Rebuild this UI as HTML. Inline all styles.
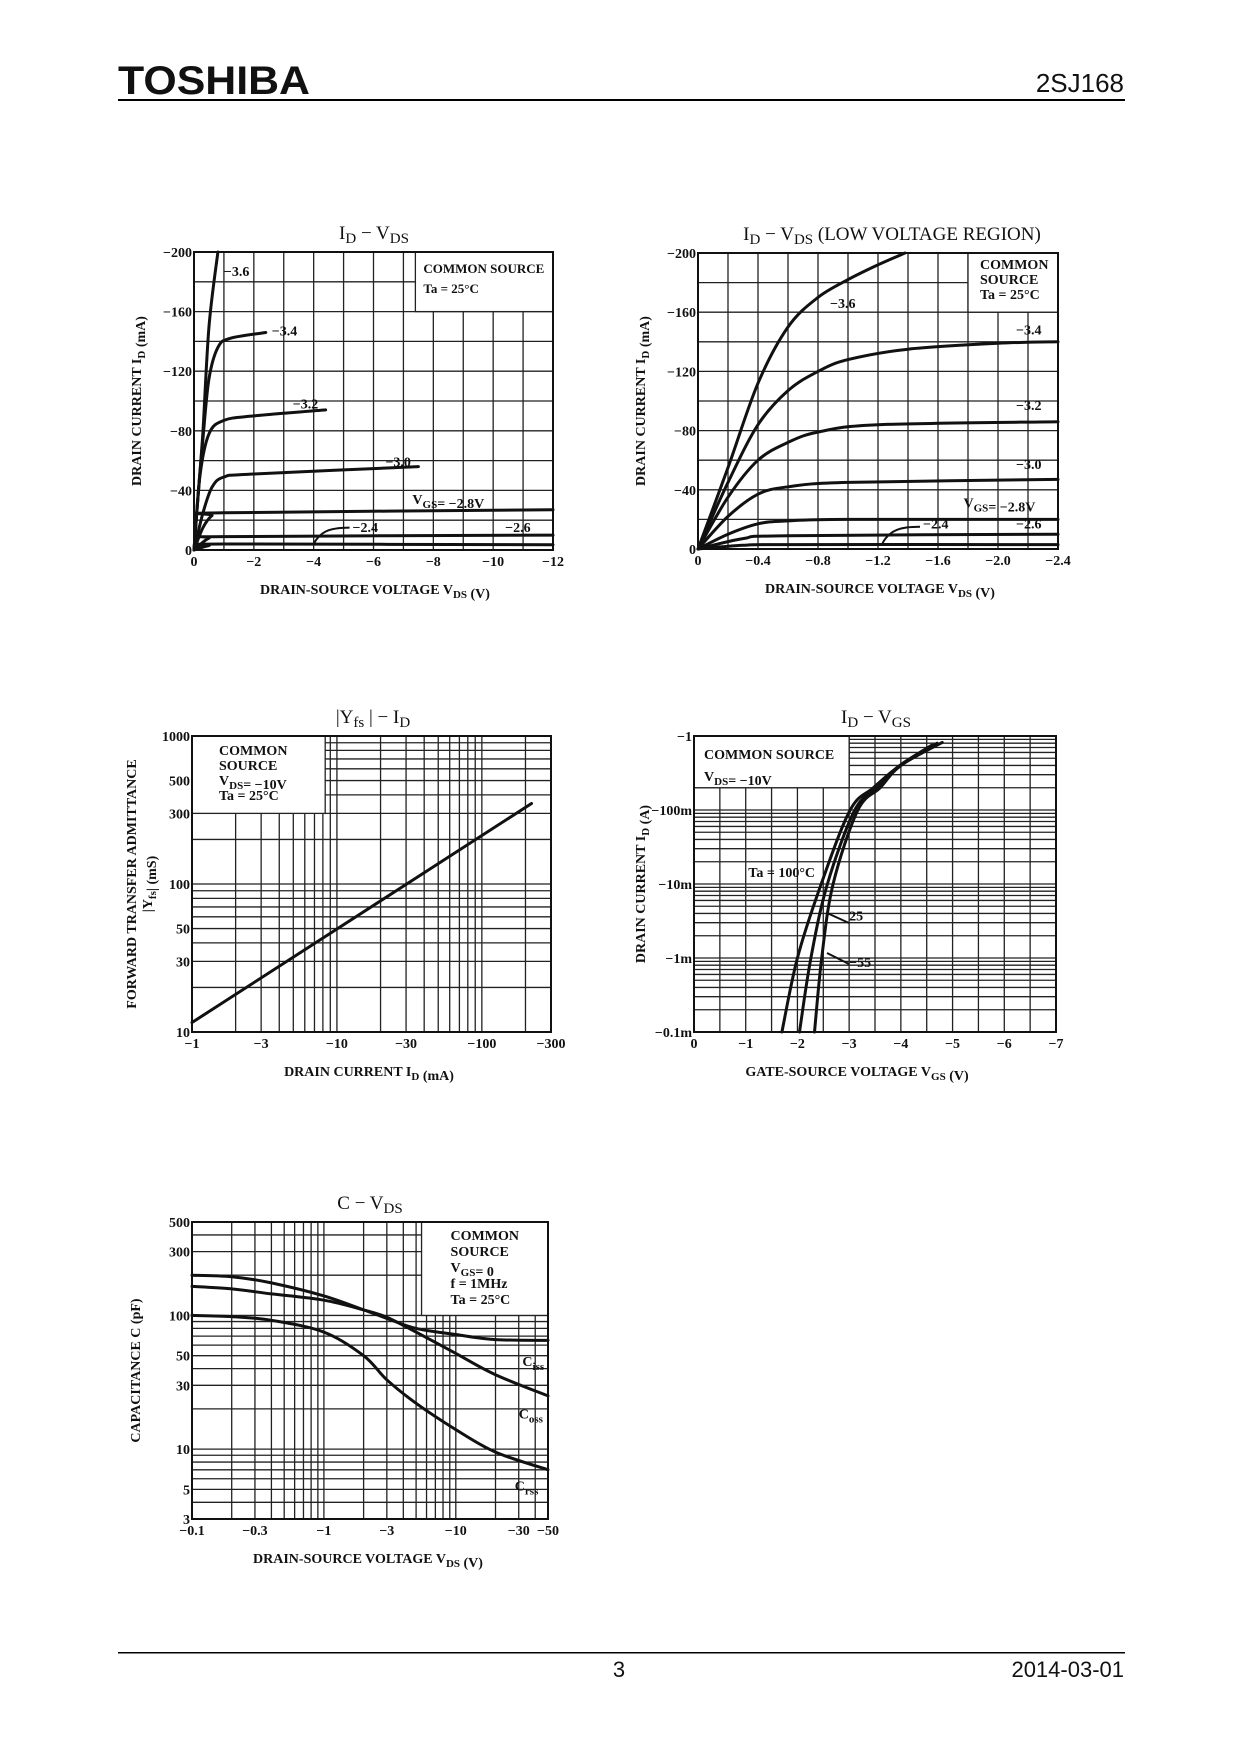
<!DOCTYPE html>
<html><head><meta charset="utf-8"><style>
html,body{margin:0;padding:0;background:#fff;}
svg{display:block;}
text{font-family:"Liberation Serif",serif;font-weight:bold;fill:#111;}
</style></head><body>
<svg id="page" width="1240" height="1754" viewBox="0 0 1240 1754" xmlns="http://www.w3.org/2000/svg">
<text x="118" y="94" textLength="192" lengthAdjust="spacingAndGlyphs" style="font-family:'Liberation Sans',sans-serif;font-weight:900;font-size:40px">TOSHIBA</text>
<text x="1124" y="92" text-anchor="end" style="font-family:'Liberation Sans',sans-serif;font-weight:normal;font-size:26px">2SJ168</text>
<rect x="118" y="99" width="1007" height="2" fill="#000"/>
<rect x="118" y="1652" width="1007" height="1.5" fill="#000"/>
<text x="619" y="1677" text-anchor="middle" style="font-family:'Liberation Sans',sans-serif;font-weight:normal;font-size:22px">3</text>
<text x="1124" y="1677" text-anchor="end" style="font-family:'Liberation Sans',sans-serif;font-weight:normal;font-size:22px">2014-03-01</text>
</svg>
<script>
// ---------- data: chart 1 (ID-VDS) ----------
const c1Vgs = ["-3.6","-3.4","-3.2","-3.0","-2.8","-2.6","-2.4"];
const c1X36 = [0,0.15,0.3,0.5,0.8]; const c1Y36 = [0,40,80,150,200];
const c1X34 = [0,0.15,0.3,0.5,0.8,1.2,2.4]; const c1Y34 = [0,40,75,115,136,142,146];
const c1X32 = [0,0.2,0.5,1,2,4.4]; const c1Y32 = [0,50,78,87,90,94];
const c1X30 = [0,0.3,0.6,1,2,7.5]; const c1Y30 = [0,25,42,49,51,56];
const c1X28 = [0,0.3,0.6,1,12]; const c1Y28 = [0,15,23,25,27];
const c1X26 = [0,0.5,1,12]; const c1Y26 = [0,8,9,10];
const c1X24 = [0,0.5,1,12]; const c1Y24 = [0,3,4,3.5];
const c1XTicks = [0,2,4,6,8,10,12]; const c1XLabels = ["0","−2","−4","−6","−8","−10","−12"];
const c1YTicks = [0,40,80,120,160,200]; const c1YLabels = ["0","−40","−80","−120","−160","−200"];
// ---------- data: chart 2 (low voltage) ----------
const c2X36 = [0,0.2,0.4,0.6,0.8,1.0,1.2,1.38]; const c2Y36 = [0,55,112,150,170,182,192,200];
const c2X34 = [0,0.2,0.4,0.6,0.8,1.0,1.4,2.0,2.4]; const c2Y34 = [0,45,84,107,120,128,135,139,140];
const c2X32 = [0,0.2,0.4,0.6,0.8,1.2,2.4]; const c2Y32 = [0,35,60,72,79,84,86];
const c2X30 = [0,0.2,0.4,0.6,1.0,2.4]; const c2Y30 = [0,22,37,42,45,47];
const c2X28 = [0,0.2,0.4,0.6,1.0,2.4]; const c2Y28 = [0,10,17,19,20,20];
const c2X26 = [0,0.3,0.6,2.4]; const c2Y26 = [0,7,9,10];
const c2X24 = [0,0.3,0.6,2.4]; const c2Y24 = [0,2.5,3,3];
const c2XTicks = [0,0.4,0.8,1.2,1.6,2.0,2.4]; const c2XLabels = ["0","−0.4","−0.8","−1.2","−1.6","−2.0","−2.4"];
// ---------- data: chart 3 (|Yfs|-ID) ----------
const c3X = [1,220]; const c3Y = [11.6,350];
const c3XTicks = [1,3,10,30,100,300]; const c3XLabels = ["−1","−3","−10","−30","−100","−300"];
const c3YTicks = [10,30,50,100,300,500,1000]; const c3YLabels = ["10","30","50","100","300","500","1000"];
// ---------- data: chart 4 (ID-VGS) ----------
const c4X100 = [1.7,2.0,2.46,3.02,3.47,3.98,4.6]; const c4Y100 = [1e-4,1e-3,1e-2,0.1,0.2,0.4,0.75];
const c4X25 = [2.04,2.26,2.58,3.11,3.55,4.0,4.7]; const c4Y25 = [1e-4,1e-3,1e-2,0.1,0.2,0.4,0.8];
const c4X55 = [2.33,2.47,2.69,3.17,3.6,4.0,4.8]; const c4Y55 = [1e-4,1e-3,1e-2,0.1,0.2,0.4,0.82];
const c4XTicks = [0,1,2,3,4,5,6,7]; const c4XLabels = ["0","−1","−2","−3","−4","−5","−6","−7"];
const c4YTicks = [1e-4,1e-3,1e-2,0.1,1]; const c4YLabels = ["−0.1m","−1m","−10m","−100m","−1"];
// ---------- data: chart 5 (C-VDS) ----------
const c5X = [0.1,0.2,0.4,1,2,3,5,10,20,50];
const c5Ciss = [200,195,175,140,110,95,80,72,66,65];
const c5Coss = [165,158,145,130,110,97,75,52,36,25];
const c5Crss = [100,98,92,75,50,33,22,14,9.5,7];
const c5XTicks = [0.1,0.3,1,3,10,30,50]; const c5XLabels = ["−0.1","−0.3","−1","−3","−10","−30","−50"];
const c5YTicks = [3,5,10,30,50,100,300,500]; const c5YLabels = ["3","5","10","30","50","100","300","500"];

const NS = "http://www.w3.org/2000/svg";
const svg = document.getElementById("page");
function mk(tag, parent){ const e=document.createElementNS(NS,tag); parent.appendChild(e); return e; }
function linS(d0,d1,r0,r1){ return v=> r0+(v-d0)/(d1-d0)*(r1-r0); }
function logS(d0,d1,r0,r1){ return v=> r0+(Math.log10(v)-Math.log10(d0))/(Math.log10(d1)-Math.log10(d0))*(r1-r0); }
function logGrid(a,b){ const out=[]; let d=Math.pow(10,Math.floor(Math.log10(a))); while(d<=b){ for(let k=1;k<10;k++){const v=k*d; if(v>=a*0.999&&v<=b*1.001) out.push(v);} d*=10;} return out; }
function smooth(P){
  if(P.length<3){ return "M"+P.map(p=>p[0].toFixed(1)+","+p[1].toFixed(1)).join("L"); }
  let d="M"+P[0][0].toFixed(1)+","+P[0][1].toFixed(1);
  for(let i=0;i<P.length-1;i++){
    const p0=P[Math.max(0,i-1)],p1=P[i],p2=P[i+1],p3=P[Math.min(P.length-1,i+2)];
    const c1=[p1[0]+(p2[0]-p0[0])/6,p1[1]+(p2[1]-p0[1])/6];
    const c2=[p2[0]-(p3[0]-p1[0])/6,p2[1]-(p3[1]-p1[1])/6];
    d+="C"+c1[0].toFixed(1)+","+c1[1].toFixed(1)+" "+c2[0].toFixed(1)+","+c2[1].toFixed(1)+" "+p2[0].toFixed(1)+","+p2[1].toFixed(1);
  }
  return d;
}

function chart(cfg){
  const g = mk("g", svg);
  
  
  const F=cfg.f, sx=cfg.sx, sy=cfg.sy;
  const grid = mk("g", g);
  
  
  cfg.gx.forEach(v=>{ const l=mk("line",grid); l.setAttribute("x1",sx(v)); l.setAttribute("x2",sx(v)); l.setAttribute("y1",F.y); l.setAttribute("y2",F.y+F.h); l.setAttribute("stroke","#222"); l.setAttribute("stroke-width","1.3");
    
     });
  cfg.gy.forEach(v=>{ const l=mk("line",grid); l.setAttribute("y1",sy(v)); l.setAttribute("y2",sy(v)); l.setAttribute("x1",F.x); l.setAttribute("x2",F.x+F.w); l.setAttribute("stroke","#222"); l.setAttribute("stroke-width","1.3");
    
     });
  const B=cfg.box; const bx=sx(B[0]), by=sy(B[3]);
  const br=mk("rect",g); br.setAttribute("x",bx); br.setAttribute("y",by); br.setAttribute("width",sx(B[1])-bx); br.setAttribute("height",sy(B[2])-by); br.setAttribute("fill","#fff"); br.setAttribute("stroke","#222"); br.setAttribute("stroke-width","1.3");
  
  
  cfg.boxText.forEach((t,i)=>{ const tx=mk("text",g); tx.setAttribute("x",bx+cfg.boxPad); tx.setAttribute("y",by+cfg.boxTop+i*cfg.boxLine); tx.setAttribute("font-size",cfg.boxFont||"14"); tx.innerHTML=t;
    
     });
  const fr=mk("rect",g); fr.setAttribute("x",F.x); fr.setAttribute("y",F.y); fr.setAttribute("width",F.w); fr.setAttribute("height",F.h); fr.setAttribute("fill","none"); fr.setAttribute("stroke","#111"); fr.setAttribute("stroke-width","2");
  
  
  cfg.series.forEach(s=>{
    const p=mk("path",g);
    const pts=s.x.map((v,i)=>[sx(v),sy(s.y[i])]);
    p.setAttribute("d",smooth(pts)); p.setAttribute("fill","none"); p.setAttribute("stroke","#111"); p.setAttribute("stroke-width","3"); p.setAttribute("stroke-linejoin","round"); p.setAttribute("stroke-linecap","round");
    
    
  });
  (cfg.labels||[]).forEach(L=>{ const t=mk("text",g); t.setAttribute("x",sx(L[1])); t.setAttribute("y",sy(L[2])); t.setAttribute("font-size","14"); t.innerHTML=L[0];
    
     });
  cfg.xt.forEach((v,i)=>{ const t=mk("text",g); t.setAttribute("x",sx(v)); t.setAttribute("y",F.y+F.h+16); t.setAttribute("text-anchor","middle"); t.setAttribute("font-size","14"); t.textContent=cfg.xl[i];
    
     });
  cfg.yt.forEach((v,i)=>{ const t=mk("text",g); t.setAttribute("x",F.x-2); t.setAttribute("y",sy(v)+5); t.setAttribute("text-anchor","end"); t.setAttribute("font-size","14"); t.textContent=cfg.yl[i];
    
     });
  const tt=mk("text",g); tt.setAttribute("x",cfg.title[1]); tt.setAttribute("y",F.y-13); tt.setAttribute("text-anchor","middle"); tt.setAttribute("font-size","19"); tt.setAttribute("style","font-weight:normal"); tt.innerHTML=cfg.title[0];
  
  
  const xt=mk("text",g); xt.setAttribute("x",cfg.xTitleX); xt.setAttribute("y",F.y+F.h+44); xt.setAttribute("text-anchor","middle"); xt.setAttribute("font-size","14"); xt.innerHTML=cfg.xTitle;
  
  
  const yt=mk("text",g); const cy=F.y+F.h/2; yt.setAttribute("x",cfg.yTitleX); yt.setAttribute("y",cy); yt.setAttribute("text-anchor","middle"); yt.setAttribute("font-size","14"); yt.setAttribute("transform","rotate(-90 "+cfg.yTitleX+" "+cy+")"); yt.innerHTML=cfg.yTitle;
  
  
  return g;
}
const sub=(s)=>'<tspan dy="4" font-size="15">'+s+'</tspan><tspan dy="-4"> </tspan>';
const subS=(s)=>'<tspan dy="4" font-size="11">'+s+'</tspan><tspan dy="-4"></tspan>';
const range=(a,b,s)=>{const o=[];for(let v=a;v<=b+1e-9;v+=s)o.push(+v.toFixed(4));return o;};
function arrow(d){ const a=mk("path",svg); a.setAttribute("d",d); a.setAttribute("stroke","#111"); a.setAttribute("stroke-width","2"); a.setAttribute("fill","none");
  
   }

// chart 1
let F={x:194,y:252,w:359,h:298};
let sx=linS(0,12,F.x,F.x+F.w), sy=linS(0,200,F.y+F.h,F.y);
chart({name:"chart-id-vds",f:F,sx,sy,gx:range(0,12,1),gy:range(0,200,20),box:[7.4,12,160,200],
 boxText:["COMMON SOURCE","Ta = 25°C"],boxPad:8,boxTop:21,boxLine:20,boxFont:"13",
 series:[{name:"curve-vgs-3.6",x:c1X36,y:c1Y36},{name:"curve-vgs-3.4",x:c1X34,y:c1Y34},{name:"curve-vgs-3.2",x:c1X32,y:c1Y32},{name:"curve-vgs-3.0",x:c1X30,y:c1Y30},{name:"curve-vgs-2.8",x:c1X28,y:c1Y28},{name:"curve-vgs-2.6",x:c1X26,y:c1Y26},{name:"curve-vgs-2.4",x:c1X24,y:c1Y24}],
 labels:[["−3.6",1.0,184],["−3.4",2.6,144],["−3.2",3.3,95],["−3.0",6.4,56],["V"+subS("GS")+"= −2.8V",7.3,31],["−2.4",5.3,12],["−2.6",10.4,12]],
 xt:c1XTicks,xl:c1XLabels,yt:c1YTicks,yl:c1YLabels,title:["I"+sub("D")+"−  V"+sub("DS"),374],
 xTitle:"DRAIN-SOURCE VOLTAGE  V"+subS("DS")+"  (V)",xTitleX:375,yTitle:"DRAIN CURRENT  I"+subS("D")+"  (mA)",yTitleX:141});
arrow("M"+sx(5.2)+","+sy(15)+" C"+sx(4.5)+","+sy(15)+" "+sx(4.2)+","+sy(12)+" "+sx(4.0)+","+sy(4));

// chart 2
F={x:698,y:253,w:360,h:296};
sx=linS(0,2.4,F.x,F.x+F.w); sy=linS(0,200,F.y+F.h,F.y);
chart({name:"chart-id-vds-low",f:F,sx,sy,gx:range(0,2.4,0.2),gy:range(0,200,20),box:[1.8,2.4,160,200],
 boxText:["COMMON","SOURCE","Ta = 25°C"],boxPad:12,boxTop:16,boxLine:15,
 series:[{name:"curve-vgs-3.6",x:c2X36,y:c2Y36},{name:"curve-vgs-3.4",x:c2X34,y:c2Y34},{name:"curve-vgs-3.2",x:c2X32,y:c2Y32},{name:"curve-vgs-3.0",x:c2X30,y:c2Y30},{name:"curve-vgs-2.8",x:c2X28,y:c2Y28},{name:"curve-vgs-2.6",x:c2X26,y:c2Y26},{name:"curve-vgs-2.4",x:c2X24,y:c2Y24}],
 labels:[["−3.6",0.88,163],["−3.4",2.12,145],["−3.2",2.12,94],["−3.0",2.12,54],["V"+subS("GS")+"= −2.8V",1.77,28],["−2.4",1.5,14],["−2.6",2.12,14]],
 xt:c2XTicks,xl:c2XLabels,yt:c1YTicks,yl:c1YLabels,title:["I"+sub("D")+"−  V"+sub("DS")+" (LOW VOLTAGE REGION)",892],
 xTitle:"DRAIN-SOURCE VOLTAGE  V"+subS("DS")+"  (V)",xTitleX:880,yTitle:"DRAIN CURRENT  I"+subS("D")+"  (mA)",yTitleX:645});
arrow("M"+sx(1.48)+","+sy(15)+" C"+sx(1.35)+","+sy(15)+" "+sx(1.28)+","+sy(13)+" "+sx(1.23)+","+sy(4));

// chart 3
F={x:192,y:736,w:359,h:296};
sx=logS(1,300,F.x,F.x+F.w); sy=logS(10,1000,F.y+F.h,F.y);
chart({name:"chart-yfs-id",f:F,sx,sy,gx:logGrid(1,300),gy:logGrid(10,1000),box:[1,8.3,300,1000],
 boxText:["COMMON","SOURCE","V"+subS("DS")+"= −10V","Ta = 25°C"],boxPad:27,boxTop:19,boxLine:15,
 series:[{name:"yfs-line",x:c3X,y:c3Y}],labels:[],
 xt:c3XTicks,xl:c3XLabels,yt:c3YTicks,yl:c3YLabels,title:["|Y"+sub("fs")+"|  −  I"+sub("D"),373],
 xTitle:"DRAIN CURRENT  I"+subS("D")+"  (mA)",xTitleX:369,yTitle:"FORWARD TRANSFER ADMITTANCE",yTitleX:136});
{const t=mk("text",svg); t.setAttribute("x",152); t.setAttribute("y",884); t.setAttribute("text-anchor","middle"); t.setAttribute("font-size","14"); t.setAttribute("transform","rotate(-90 152 884)"); t.innerHTML="|Y"+subS("fs")+"|  (mS)";
 
 }

// chart 4
F={x:694,y:736,w:362,h:296};
sx=linS(0,7,F.x,F.x+F.w); sy=logS(1e-4,1,F.y+F.h,F.y);
chart({name:"chart-id-vgs",f:F,sx,sy,gx:range(0,7,0.5),gy:logGrid(1e-4,1),box:[0,3.0,0.2,1],
 boxText:["COMMON SOURCE","V"+subS("DS")+"= −10V"],boxPad:10,boxTop:23,boxLine:22,
 series:[{name:"curve-ta-100",x:c4X100,y:c4Y100},{name:"curve-ta-25",x:c4X25,y:c4Y25},{name:"curve-ta-minus55",x:c4X55,y:c4Y55}],
 labels:[["Ta = 100°C",1.05,0.0125],["25",3.0,0.0032],["−55",3.0,0.00075]],
 xt:c4XTicks,xl:c4XLabels,yt:c4YTicks,yl:c4YLabels,title:["I"+sub("D")+"−  V"+sub("GS"),876],
 xTitle:"GATE-SOURCE VOLTAGE  V"+subS("GS")+"  (V)",xTitleX:857,yTitle:"DRAIN CURRENT  I"+subS("D")+"  (A)",yTitleX:645});
arrow("M849,923 L827,913 M849,964 L827,953");

// chart 5
F={x:192,y:1222,w:356,h:297};
sx=logS(0.1,50,F.x,F.x+F.w); sy=logS(3,500,F.y+F.h,F.y);
chart({name:"chart-c-vds",f:F,sx,sy,gx:logGrid(0.1,50),gy:logGrid(3,500),box:[5.5,50,100,500],
 boxText:["COMMON","SOURCE","V"+subS("GS")+"= 0","f = 1MHz","Ta = 25°C"],boxPad:29,boxTop:18,boxLine:16,
 series:[{name:"curve-ciss",x:c5X,y:c5Ciss},{name:"curve-coss",x:c5X,y:c5Coss},{name:"curve-crss",x:c5X,y:c5Crss}],
 labels:[["C"+subS("iss"),32,42],["C"+subS("oss"),30,17],["C"+subS("rss"),28,4.9]],
 xt:c5XTicks,xl:c5XLabels,yt:c5YTicks,yl:c5YLabels,title:["C  −  V"+sub("DS"),370],
 xTitle:"DRAIN-SOURCE VOLTAGE  V"+subS("DS")+"  (V)",xTitleX:368,yTitle:"CAPACITANCE  C  (pF)",yTitleX:140});
</script>
</body></html>
